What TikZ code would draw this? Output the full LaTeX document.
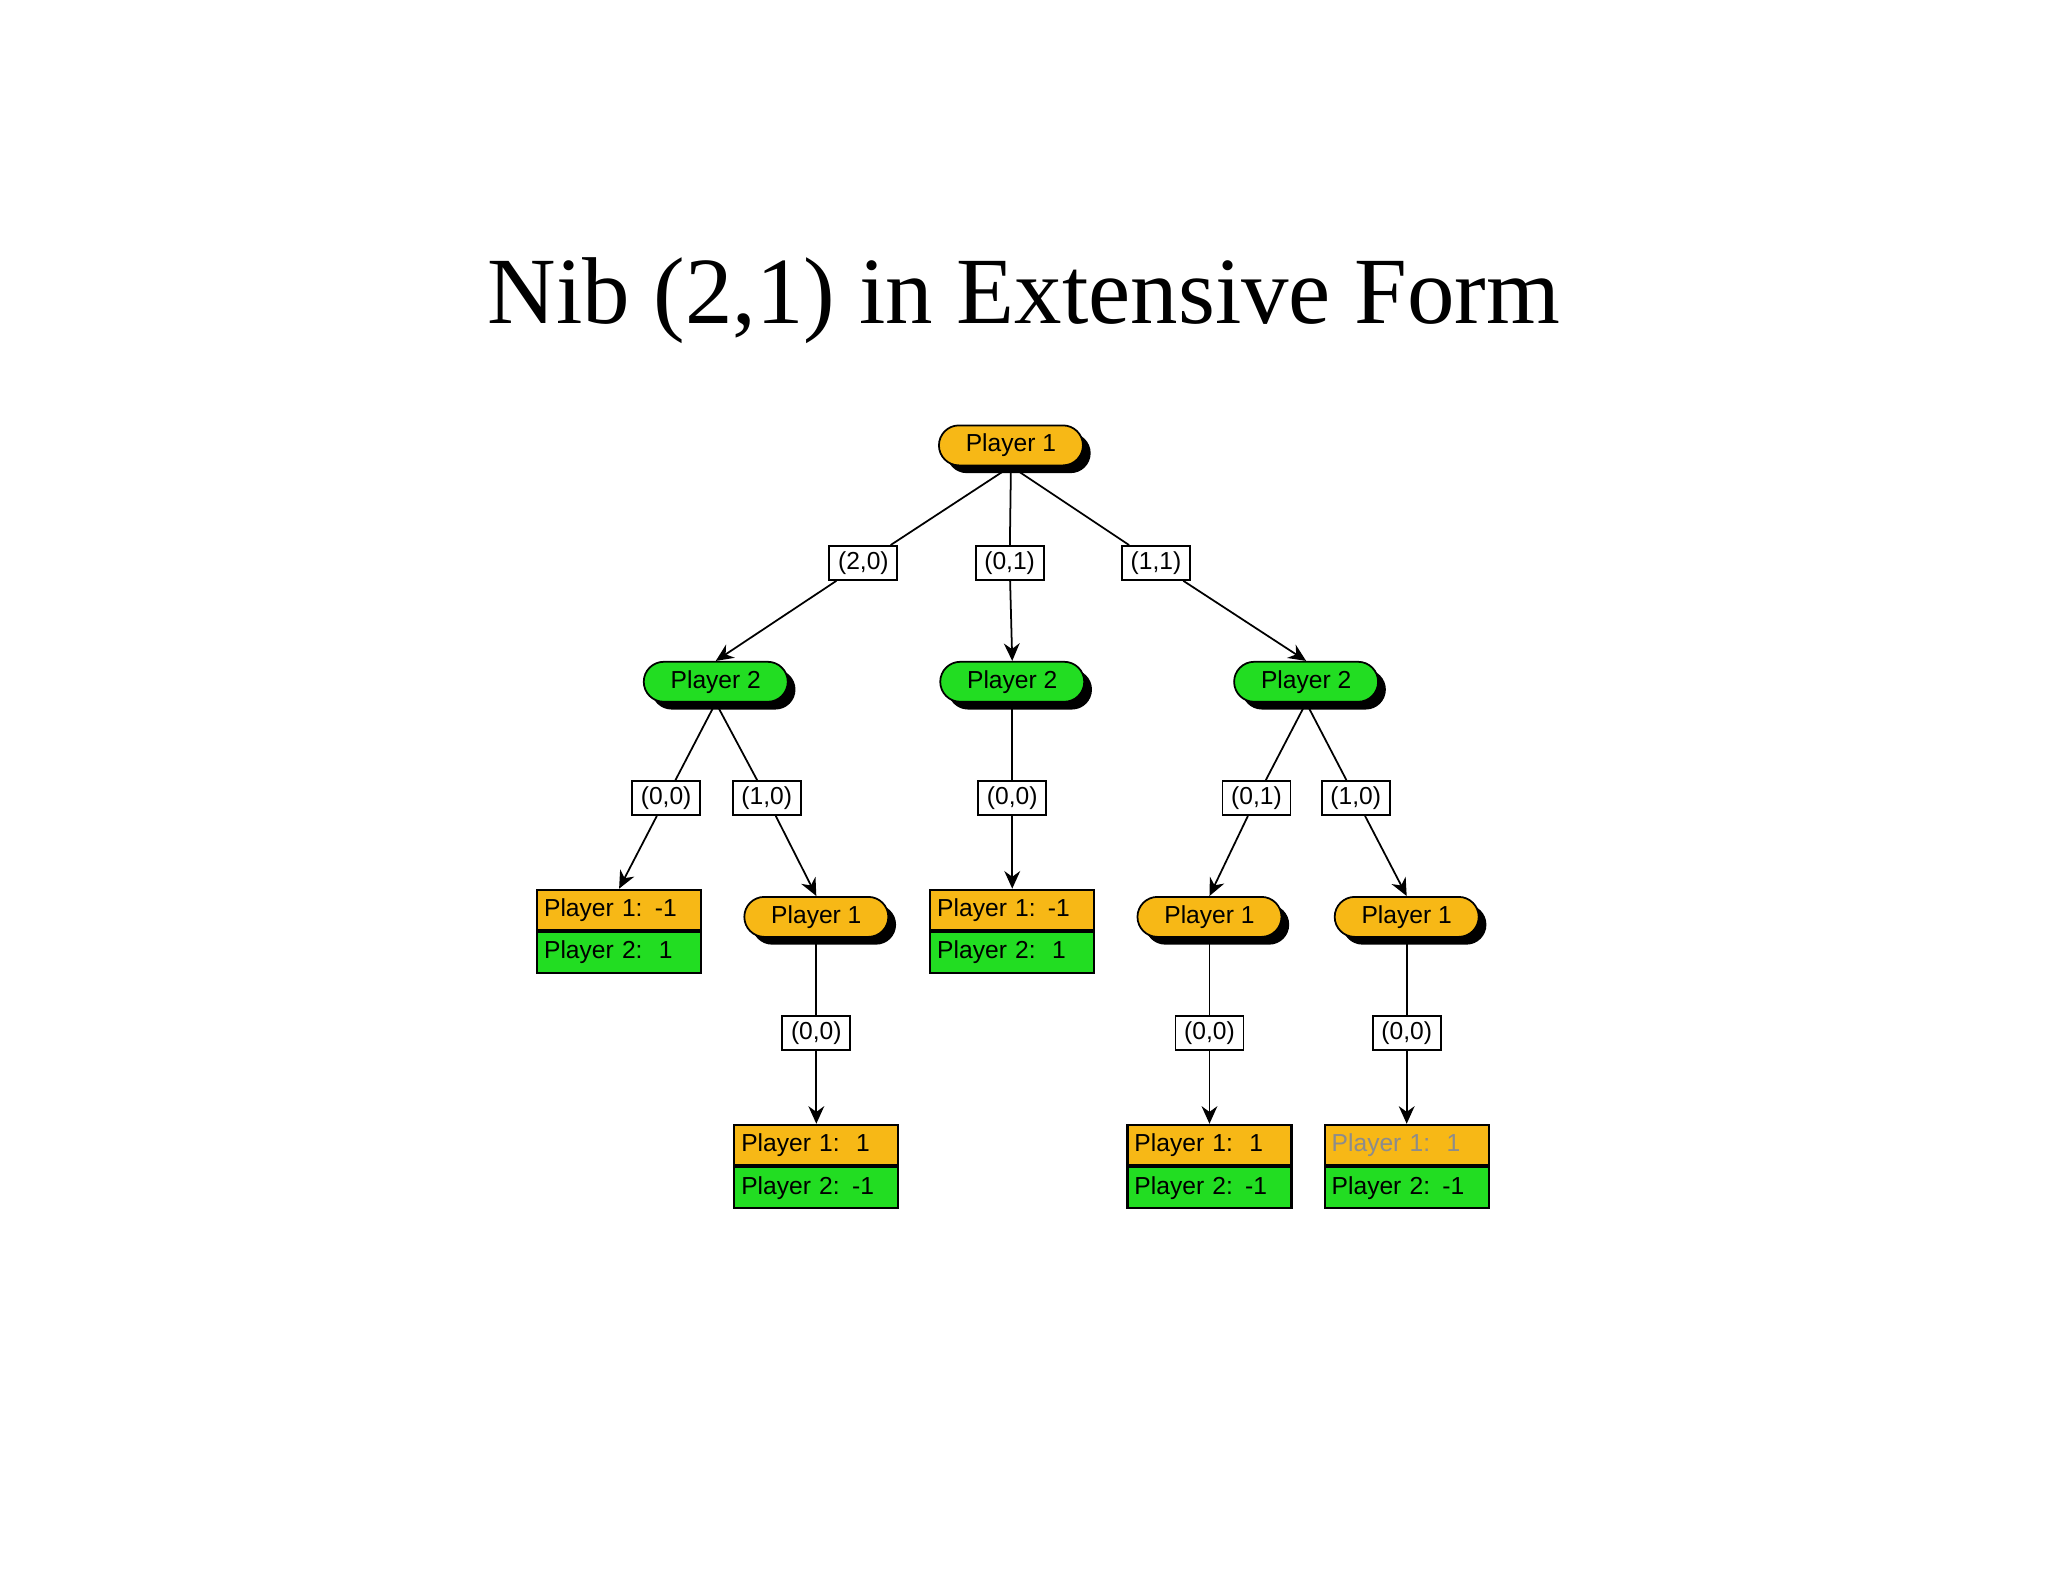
\documentclass[tikz,border=0pt]{standalone}
\usepackage{fontspec}
\setmainfont{Liberation Serif}
\newfontfamily\arialf{Liberation Sans}
\usetikzlibrary{shapes.misc,shadows,arrows.meta}
\definecolor{pOrange}{HTML}{F7B816}
\definecolor{pGreen}{HTML}{22DD22}
\tikzset{
 pill/.style={rounded rectangle, draw=black, line width=0.5pt, minimum width=1.44cm, minimum height=0.40cm, inner sep=0pt,
   font=\arialf\fontsize{7}{8}\selectfont,
   drop shadow={shadow xshift=2.2pt, shadow yshift=-2.2pt, fill=black, opacity=1}},
 p1/.style={pill, fill=pOrange},
 p2/.style={pill, fill=pGreen},
 lbl/.style={draw=black, fill=white, line width=0.5pt, minimum width=0.68cm, minimum height=0.34cm, inner sep=0pt, font=\arialf\fontsize{7}{8}\selectfont},
 row/.style={draw=black, line width=0.6pt, minimum width=1.62cm, minimum height=0.405cm, inner sep=2pt, text width=1.5cm, align=left, font=\arialf\fontsize{7}{8}\selectfont},
 edge/.style={line width=0.5pt},
 arr/.style={line width=0.5pt, -{Stealth[length=5pt,width=4.5pt]}}
}
\newcommand{\payoffbox}[4]{%
 \node[row, fill=pOrange, anchor=south] (#1) at #2 {#3};
 \node[row, fill=pGreen, anchor=north] (#1b) at (#1.south) {#4};}
\begin{document}
\begin{tikzpicture}[x=0.01306cm,y=-0.01306cm]
\useasboundingbox[fill=white] (0,0) rectangle (1568,1211);
\node[font=\fontsize{27}{30}\selectfont] (title) at (784,230) {Nib (2,1) in Extensive Form};
% nodes
\node[p1] (r) at (774,341) {Player 1};
\node[lbl] (l20) at (661,431) {(2,0)};
\node[lbl] (l01) at (773,431) {(0,1)};
\node[lbl] (l11) at (885,431) {(1,1)};
\node[p2] (a) at (548,522) {Player 2};
\node[p2] (b) at (775,522) {Player 2};
\node[p2] (c) at (1000,522) {Player 2};
\node[lbl] (a00) at (510,611) {(0,0)};
\node[lbl] (a10) at (587,611) {(1,0)};
\node[lbl] (b00) at (775,611) {(0,0)};
\node[lbl] (c01) at (962,611) {(0,1)};
\node[lbl] (c10) at (1038,611) {(1,0)};
\payoffbox{ta}{(474,713)}{Player 1: -1}{Player 2:\ \ 1}
\node[p1] (d) at (625,702) {Player 1};
\payoffbox{tb}{(775,713)}{Player 1: -1}{Player 2:\ \ 1}
\node[p1] (e) at (926,702) {Player 1};
\node[p1] (f) at (1077,702) {Player 1};
\node[lbl] (d00) at (625,791) {(0,0)};
\node[lbl] (e00) at (926,791) {(0,0)};
\node[lbl] (f00) at (1077,791) {(0,0)};
\payoffbox{td}{(625,893)}{Player 1:\ \ 1}{Player 2: -1}
\payoffbox{te}{(926,893)}{Player 1:\ \ 1}{Player 2: -1}
\payoffbox{tf}{(1077,893)}{\textcolor{black!45}{Player 1:\ \ 1}}{Player 2: -1}
% edges
\draw[edge] (r.south) -- (l20); \draw[arr] (l20) -- (a.north);
\draw[edge] (r.south) -- (l01); \draw[arr] (l01) -- (b.north);
\draw[edge] (r.south) -- (l11); \draw[arr] (l11) -- (c.north);
\draw[edge] (a.south) -- (a00); \draw[arr] (a00) -- (ta.north);
\draw[edge] (a.south) -- (a10); \draw[arr] (a10) -- (d.north);
\draw[edge] (b.south) -- (b00); \draw[arr] (b00) -- (tb.north);
\draw[edge] (c.south) -- (c01); \draw[arr] (c01) -- (e.north);
\draw[edge] (c.south) -- (c10); \draw[arr] (c10) -- (f.north);
\draw[edge] (d.south) -- (d00); \draw[arr] (d00) -- (td.north);
\draw[edge] (e.south) -- (e00); \draw[arr] (e00) -- (te.north);
\draw[edge] (f.south) -- (f00); \draw[arr] (f00) -- (tf.north);
\end{tikzpicture}
\end{document}
